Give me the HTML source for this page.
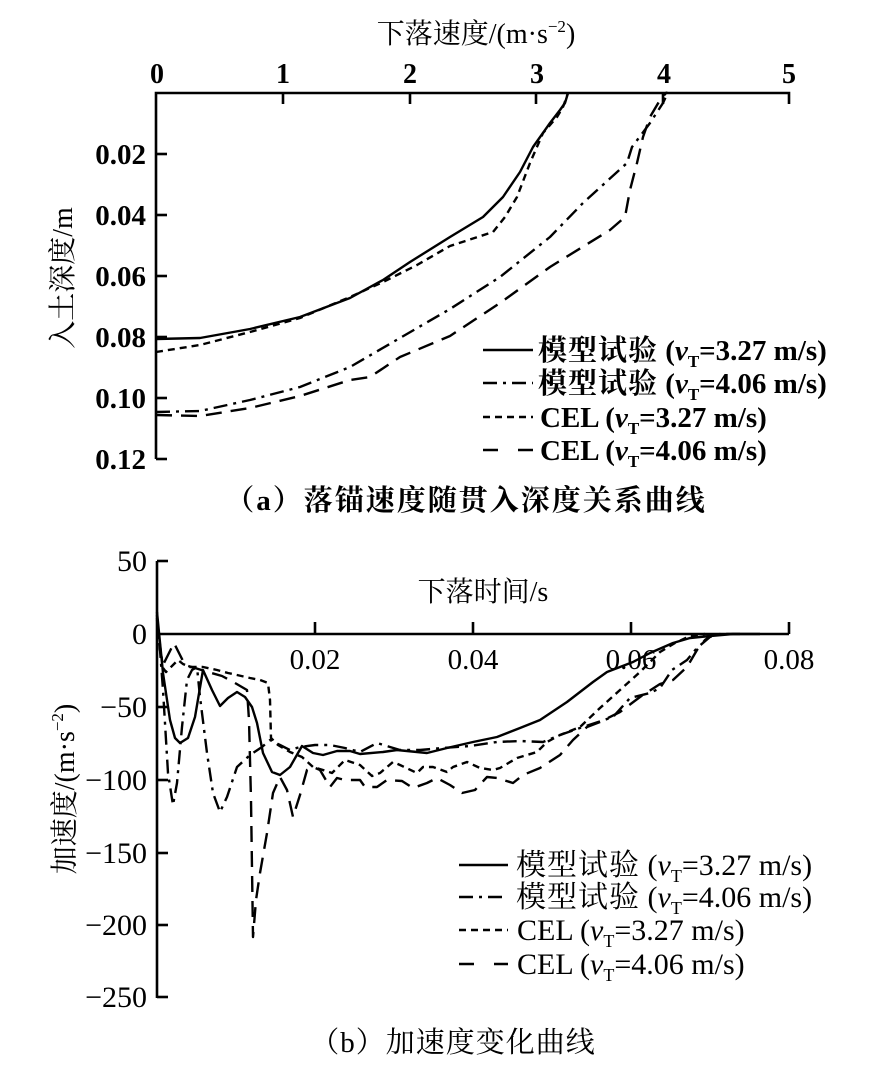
<!DOCTYPE html>
<html>
<head>
<meta charset="utf-8">
<style>
html,body{margin:0;padding:0;background:#fff;}
svg{display:block;}
text{font-family:"Liberation Serif","Noto Serif CJK SC",serif;fill:#000;}
</style>
</head>
<body>
<svg width="890" height="1081" viewBox="0 0 890 1081" xmlns="http://www.w3.org/2000/svg">
<rect width="890" height="1081" fill="#fff"/>

<!-- ============ Panel (a) ============ -->
<text x="476" y="43" font-size="28" text-anchor="middle">下落速度/(m·s<tspan font-size="17" dy="-11">−2</tspan><tspan dy="11">)</tspan></text>

<g font-size="28" font-weight="bold" text-anchor="middle">
<text x="157" y="83">0</text>
<text x="283" y="83">1</text>
<text x="410" y="83">2</text>
<text x="537" y="83">3</text>
<text x="664" y="83">4</text>
<text x="789" y="83">5</text>
</g>

<g stroke="#000" stroke-width="2.6" fill="none">
<polyline points="156,459 156,93 789,93 789,104"/>
<line x1="283" y1="93" x2="283" y2="104"/>
<line x1="410" y1="93" x2="410" y2="104"/>
<line x1="536" y1="93" x2="536" y2="104"/>
<line x1="663" y1="93" x2="663" y2="104"/>
<line x1="156" y1="154" x2="167" y2="154"/>
<line x1="156" y1="215" x2="167" y2="215"/>
<line x1="156" y1="276" x2="167" y2="276"/>
<line x1="156" y1="337" x2="167" y2="337"/>
<line x1="156" y1="398" x2="167" y2="398"/>
<line x1="156" y1="459" x2="167" y2="459"/>
</g>

<g font-size="29" font-weight="bold" text-anchor="end">
<text x="146" y="164">0.02</text>
<text x="146" y="225">0.04</text>
<text x="146" y="286">0.06</text>
<text x="146" y="347">0.08</text>
<text x="146" y="408">0.10</text>
<text x="146" y="469">0.12</text>
</g>

<text transform="translate(72,278) rotate(-90)" font-size="28" text-anchor="middle">入土深度/m</text>

<g stroke="#000" stroke-width="2.4" fill="none" stroke-linejoin="round">
<polyline points="156,339 200,338 250,329 300,317 350,298 383,280 410,262 450,237 483,217 503,197 520,172 533,147 550,123 560,110 565,103 568,93"/>
<polyline stroke-dasharray="7 5" points="156,352 200,345 250,332 300,318 350,297 383,282 417,265 450,246 493,232 505,217 517,197 530,163 543,133 557,117 563,107 568,93"/>
<polyline stroke-dasharray="14 6 3 6" points="156,412 200,411 250,400 300,387 350,367 400,338 450,309 500,277 550,237 583,203 627,163 632,147 650,123 663,103 668,92"/>
<polyline stroke-dasharray="16 9" points="156,415 200,416 250,408 300,396 350,380 370,377 400,357 450,336 500,303 550,267 610,230 625,217 630,190 637,163 643,137 650,117 660,100 667,92"/>
</g>

<!-- legend a -->
<g stroke="#000" stroke-width="2.4" fill="none">
<line x1="483" y1="350" x2="533" y2="350"/>
<line x1="483" y1="383" x2="533" y2="383" stroke-dasharray="14 6 3 6"/>
<line x1="483" y1="417" x2="533" y2="417" stroke-dasharray="7 5"/>
<line x1="483" y1="450" x2="533" y2="450" stroke-dasharray="15 20"/>
</g>
<g font-size="29" font-weight="bold">
<text x="538" y="360"><tspan letter-spacing="1">模型试验</tspan> (<tspan font-style="italic">v</tspan><tspan font-size="17" dy="7">T</tspan><tspan dy="-7">=3.27 m/s)</tspan></text>
<text x="538" y="393"><tspan letter-spacing="1">模型试验</tspan> (<tspan font-style="italic">v</tspan><tspan font-size="17" dy="7">T</tspan><tspan dy="-7">=4.06 m/s)</tspan></text>
<text x="540" y="427">CEL (<tspan font-style="italic">v</tspan><tspan font-size="17" dy="7">T</tspan><tspan dy="-7">=3.27 m/s)</tspan></text>
<text x="540" y="460">CEL (<tspan font-style="italic">v</tspan><tspan font-size="17" dy="7">T</tspan><tspan dy="-7">=4.06 m/s)</tspan></text>
</g>

<text x="466" y="510" font-size="29" font-weight="bold" text-anchor="middle" letter-spacing="2">（a）落锚速度随贯入深度关系曲线</text>

<!-- ============ Panel (b) ============ -->
<g stroke="#000" stroke-width="2.6" fill="none">
<line x1="157" y1="561" x2="157" y2="998"/>
<line x1="157" y1="634" x2="789" y2="634"/>
<line x1="315" y1="634" x2="315" y2="622"/>
<line x1="473" y1="634" x2="473" y2="622"/>
<line x1="631" y1="634" x2="631" y2="622"/>
<line x1="789" y1="634" x2="789" y2="622"/>
<line x1="157" y1="561" x2="168" y2="561"/>
<line x1="157" y1="707" x2="168" y2="707"/>
<line x1="157" y1="780" x2="168" y2="780"/>
<line x1="157" y1="853" x2="168" y2="853"/>
<line x1="157" y1="925" x2="168" y2="925"/>
<line x1="157" y1="997" x2="168" y2="997"/>
</g>

<g font-size="30" text-anchor="end">
<text x="147" y="571">50</text>
<text x="147" y="644">0</text>
<text x="147" y="717">−50</text>
<text x="147" y="790">−100</text>
<text x="147" y="863">−150</text>
<text x="147" y="935">−200</text>
<text x="147" y="1007">−250</text>
</g>

<g font-size="29" text-anchor="middle">
<text x="315" y="669">0.02</text>
<text x="473" y="669">0.04</text>
<text x="631" y="669">0.06</text>
<text x="789" y="669">0.08</text>
</g>

<text x="483" y="601" font-size="28" text-anchor="middle">下落时间/s</text>

<text transform="translate(74,789) rotate(-90)" font-size="28" text-anchor="middle">加速度/(m·s<tspan font-size="17" dy="-11">−2</tspan><tspan dy="11">)</tspan></text>

<g stroke="#000" stroke-width="2.4" fill="none" stroke-linejoin="round">
<polyline points="157,612 163,673 170,720 175,738 180,743 188,738 195,717 203,670 212,690 220,706 228,698 237,692 245,697 252,707 257,723 263,753 272,772 280,775 290,767 302,746 313,753 323,755 337,751 350,751 360,754 383,752 397,750 427,753 447,748 473,742 497,737 520,728 540,720 567,702 593,682 607,672 633,662 650,653 673,643 690,638 710,636 733,634 760,634"/>
<polyline stroke-dasharray="14 6 3 6" points="157,615 160,650 163,690 168,773 173,805 177,783 182,727 187,680 192,670 197,667 200,697 207,753 213,793 220,812 227,797 237,767 250,755 262,747 270,740 280,745 290,750 300,747 315,745 330,745 345,748 360,752 377,743 390,747 400,750 420,750 443,748 470,746 497,742 520,741 543,742 560,735 580,728 613,717 630,698 650,693 660,688 672,670 687,660 697,648 710,637 720,634 740,634"/>
<polyline stroke-dasharray="7 5" points="157,620 160,645 163,668 166,672 170,668 178,660 183,664 190,667 203,667 217,670 228,673 237,675 250,678 260,680 268,683 270,700 271,738 278,745 290,752 302,757 313,767 323,770 332,773 345,760 360,765 372,776 380,773 393,762 400,765 417,773 423,767 433,767 447,772 453,767 467,762 480,768 493,770 500,768 517,758 537,752 547,742 560,735 580,727 600,708 620,690 640,672 660,652 675,643 690,636 705,634"/>
<polyline stroke-dasharray="16 9" points="157,618 160,650 163,665 168,655 174,643 180,655 185,665 195,668 208,672 222,676 235,683 247,690 249,720 251,800 253,937 256,900 260,873 267,833 273,793 280,777 287,790 293,817 300,795 307,770 313,767 320,770 330,787 337,778 345,780 360,780 365,787 377,787 387,780 402,781 413,788 427,783 437,778 450,785 462,793 475,790 487,777 497,778 513,783 523,775 540,768 560,755 573,740 587,727 600,722 620,712 640,697 660,684 673,680 687,667 697,650 705,640 712,635"/>
</g>

<!-- legend b -->
<g stroke="#000" stroke-width="2.4" fill="none">
<line x1="459" y1="865" x2="508" y2="865"/>
<line x1="459" y1="897" x2="508" y2="897" stroke-dasharray="14 6 3 6"/>
<line x1="459" y1="930" x2="508" y2="930" stroke-dasharray="7 5"/>
<line x1="459" y1="964" x2="508" y2="964" stroke-dasharray="15 20"/>
</g>
<g font-size="30">
<text x="516" y="875"><tspan letter-spacing="1">模型试验</tspan> (<tspan font-style="italic">v</tspan><tspan font-size="18" dy="7">T</tspan><tspan dy="-7">=3.27 m/s)</tspan></text>
<text x="516" y="907"><tspan letter-spacing="1">模型试验</tspan> (<tspan font-style="italic">v</tspan><tspan font-size="18" dy="7">T</tspan><tspan dy="-7">=4.06 m/s)</tspan></text>
<text x="517" y="940">CEL (<tspan font-style="italic">v</tspan><tspan font-size="18" dy="7">T</tspan><tspan dy="-7">=3.27 m/s)</tspan></text>
<text x="517" y="974">CEL (<tspan font-style="italic">v</tspan><tspan font-size="18" dy="7">T</tspan><tspan dy="-7">=4.06 m/s)</tspan></text>
</g>

<text x="453" y="1052" font-size="29" text-anchor="middle" letter-spacing="1">（b）加速度变化曲线</text>
</svg>
</body>
</html>
